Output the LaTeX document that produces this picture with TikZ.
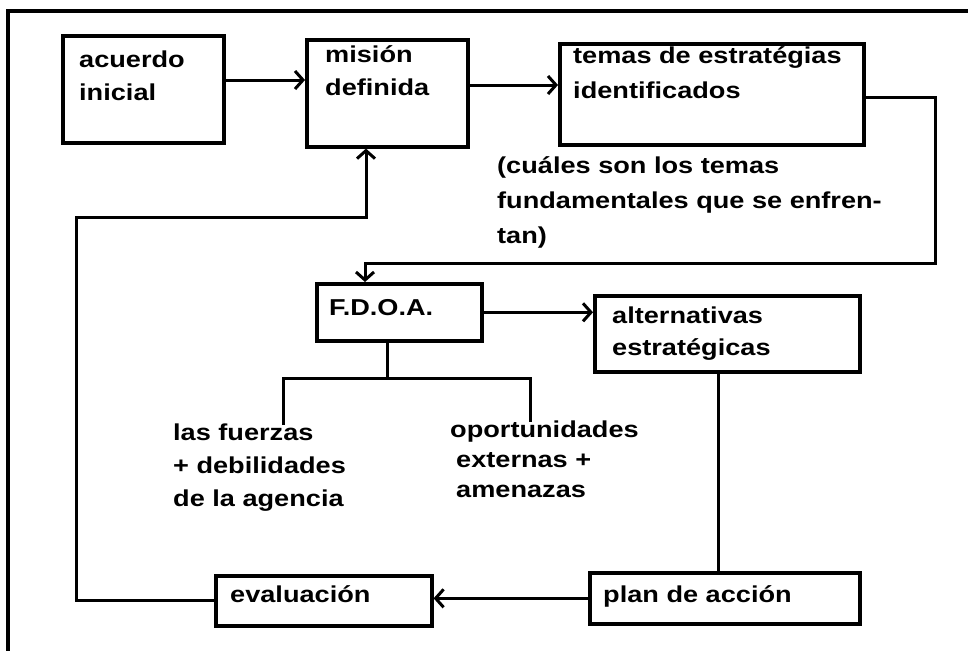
\documentclass[tikz,border=0pt]{standalone}
\usepackage{fontspec}
\setmainfont{Liberation Sans}[FakeStretch=1.18]
\usetikzlibrary{arrows.meta,calc}

\tikzset{
  caja/.style={draw, line width=3.6pt, inner sep=0pt, anchor=north west},
  texto/.style={anchor=base west, inner sep=0pt, align=left,
    font=\bfseries\fontsize{23}{33}\selectfont},
  linea/.style={line width=3pt},
  flecha/.style={linea, ->, >={Straight Barb[length=8pt,width=18pt,line width=3pt]}}
}

\begin{document}
\begin{tikzpicture}[x=1pt, y=1pt]

\useasboundingbox (0,0) rectangle (968,-651);
\draw [line width=3.6pt] (968,-11) -- (8,-11) -- (8,-651);

\node[caja, minimum width=161pt, minimum height=107pt] (acuerdo) at (61,-34) {};
\node[caja, minimum width=161pt, minimum height=107pt] (mision) at (305,-38) {};
\node[caja, minimum width=304pt, minimum height=101pt] (temas) at (558,-42) {};
\node[caja, minimum width=165pt, minimum height=57pt] (fdoa) at (315,-282) {};
\node[caja, minimum width=265pt, minimum height=76pt] (alternativas) at (593,-294) {};
\node[caja, minimum width=270pt, minimum height=51pt] (plan) at (588,-571) {};
\node[caja, minimum width=216pt, minimum height=50pt] (evaluacion) at (214,-574) {};

% base west = baseline of the last line
\node[texto] (tacuerdo) at ([xshift=18pt, yshift=-66pt]acuerdo.north west) {acuerdo\\inicial};
\node[texto] (tmision) at ([xshift=20pt, yshift=-57pt]mision.north west) {misión\\definida};
\node[texto, font=\bfseries\fontsize{23}{35}\selectfont] (ttemas) at ([xshift=15pt, yshift=-56pt]temas.north west) {temas de estratégias\\identificados};
\node[texto, font=\bfseries\fontsize{23}{35}\selectfont] (nota) at (497,-243) {(cuáles son los temas\\fundamentales que se enfren-\\tan)};
\node[texto] (tfdoa) at ([xshift=14pt, yshift=-33pt]fdoa.north west) {F.D.O.A.};
\node[texto, font=\bfseries\fontsize{23}{32}\selectfont] (talternativas) at ([xshift=19pt, yshift=-61pt]alternativas.north west) {alternativas\\estratégicas};
\node[texto] (tplan) at ([xshift=15pt, yshift=-31pt]plan.north west) {plan de acción};
\node[texto] (tevaluacion) at ([xshift=16pt, yshift=-28pt]evaluacion.north west) {evaluación};
\node[texto] (fuerzas) at (173,-506) {las fuerzas\\+ debilidades\\de la agencia};
\node[texto, font=\bfseries\fontsize{23}{30}\selectfont] (oportunidades) at (450,-497) {oportunidades\\\hspace{6pt}externas +\\\hspace{6pt}amenazas};

\coordinate (rama) at (387,-378);
\coordinate (ramaizq) at (283,-425);
\coordinate (ramader) at (530,-422);

\draw [flecha] (acuerdo.east |- 0,-80) -- (mision.west |- 0,-80);
\draw [flecha] (mision.east |- 0,-85) -- (temas.west |- 0,-85);
\draw [flecha] (temas.east |- 0,-97) -| (935,-263) -| (fdoa.north -| 365,0);
\draw [flecha] (fdoa.east) -- (alternativas.west |- fdoa.east);
\draw [linea] (fdoa.south -| rama) -- (rama);
\draw [linea] (ramaizq) |- (ramader |- rama) -- (ramader);
\draw [linea] (alternativas.south -| 718,0) -- (plan.north -| 718,0);
\draw [flecha] (plan.west) -- (evaluacion.east |- plan.west);
\draw [flecha] (evaluacion.west) -| (76,-217) -| (mision.south -| 366,0);

\end{tikzpicture}
\end{document}
